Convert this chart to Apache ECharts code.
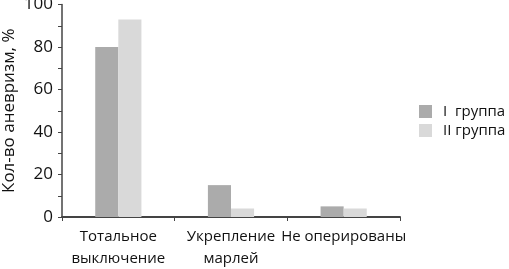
<!DOCTYPE html>
<html><head><meta charset="utf-8">
<script src="https://cdn.jsdelivr.net/npm/echarts@6/dist/echarts.min.js"></script>
<style>html,body{margin:0;padding:0;background:#fff}#c{width:509px;height:269px}</style>
</head><body><div id="c"></div>
<script>
const categories = ['Тотальное\nвыключение', 'Укрепление\nмарлей', 'Не оперированы'];
const seriesNames = ['I  группа', 'II группа'];
const group1 = [80, 15, 5];
const group2 = [93, 4, 4];
const yTicks = [0, 20, 40, 60, 80, 100];

const font = '"Open Sans", "Noto Sans", sans-serif';
const chart = echarts.init(document.getElementById('c'), null, {renderer: 'canvas'});
chart.setOption({
  animation: false,
  backgroundColor: '#fff',
  grid: {left: 62, right: 109, top: 4.5, bottom: 52, containLabel: false, outerBoundsMode: 'none'},
  legend: {
    orient: 'vertical', left: 414, top: 99, itemWidth: 13, itemHeight: 13, itemGap: 4,
    icon: 'rect',
    textStyle: {fontFamily: font, fontSize: 15, color: '#111', padding: [0,0,0,6]},
    data: seriesNames
  },
  xAxis: {
    type: 'category', data: categories,
    axisLine: {lineStyle: {color: '#444', width: 2}},
    axisTick: {show: true, length: 4, inside: false, lineStyle: {color: '#444'}},
    axisLabel: {fontFamily: font, fontSize: 15, color: '#111', margin: 9, lineHeight: 22, interval: 0}
  },
  yAxis: {
    type: 'value', min: 0, max: 100, interval: 10,
    name: 'Кол-во аневризм, %', nameLocation: 'middle', nameGap: 44, nameRotate: 90,
    nameMoveOverlap: false,
    nameTextStyle: {fontFamily: font, fontSize: 17, color: '#111'},
    axisLine: {show: true, lineStyle: {color: '#444', width: 1.5}},
    axisTick: {show: true, length: 4, lineStyle: {color: '#444'}},
    splitLine: {show: false},
    axisLabel: {fontFamily: font, fontSize: 17, color: '#111', margin: 9,
      formatter: v => yTicks.includes(v) ? String(v) : ''}
  },
  series: [
    {name: seriesNames[0], type: 'bar', data: group1, barWidth: '20.5%', barGap: '0%', itemStyle: {color: '#ababab'}},
    {name: seriesNames[1], type: 'bar', data: group2, barWidth: '20.5%', barGap: '0%', itemStyle: {color: '#d9d9d9'}}
  ]
});
</script></body></html>
